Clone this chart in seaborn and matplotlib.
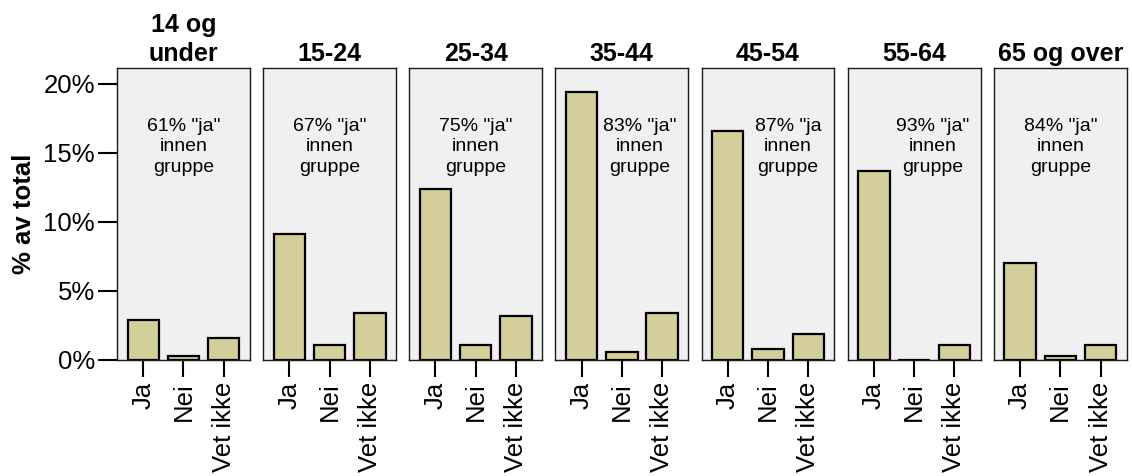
import matplotlib
matplotlib.use("Agg")
import matplotlib.pyplot as plt
import seaborn as sns
import pandas as pd
from matplotlib.ticker import FuncFormatter, FixedLocator

# ---- data ----
age_groups = ["14 og\nunder", "15-24", "25-34", "35-44", "45-54", "55-64", "65 og over"]
answers = ["Ja", "Nei", "Vet ikke"]
ja = [2.9, 9.1, 12.4, 19.4, 16.6, 13.7, 7.0]
nei = [0.3, 1.1, 1.1, 0.55, 0.8, 0.0, 0.3]
vet_ikke = [1.6, 3.4, 3.15, 3.4, 1.85, 1.1, 1.1]
notes = ['61% "ja"\ninnen\ngruppe', '67% "ja"\ninnen\ngruppe', '75% "ja"\ninnen\ngruppe',
         '83% "ja"\ninnen\ngruppe', '87% "ja\ninnen\ngruppe', '93% "ja"\ninnen\ngruppe',
         '84% "ja"\ninnen\ngruppe']
y_ticks = [0, 5, 10, 15, 20]
y_label = "% av total"

# note horizontal placement (category units)
note_x = [1.0, 1.0, 1.0, 1.45, 1.5, 1.45, 1.0]

rows = []
for i, age in enumerate(age_groups):
    for ans, vals in zip(answers, [ja, nei, vet_ikke]):
        rows.append({"age": age, "answer": ans, "value": vals[i]})
df = pd.DataFrame(rows)

sns.set_theme(style="white")
plt.rcParams['font.family'] = ['Liberation Sans', 'DejaVu Sans']
plt.rcParams['text.color'] = 'black'
plt.rcParams['axes.labelcolor'] = 'black'
plt.rcParams['xtick.color'] = 'black'
plt.rcParams['ytick.color'] = 'black'

g = sns.catplot(data=df, x="answer", y="value", col="age", kind="bar",
                order=answers, col_order=age_groups, color="#D3CE9A",
                edgecolor="black", linewidth=1.6, width=0.78, saturation=1,
                height=4.76, aspect=0.2, sharey=True, errorbar=None)
fig = g.figure
fig.set_size_inches(11.32, 4.76)
fig.subplots_adjust(left=0.1034, right=0.9953, bottom=0.2437, top=0.8565, wspace=0.1)

for i, ax in enumerate(g.axes.flat):
    ax.set_facecolor("#F0F0F0")
    for sp in ax.spines.values():
        sp.set_visible(True)
        sp.set_color("#1a1a1a")
        sp.set_linewidth(1.0)
    ax.set_xlim(-0.65, 2.65)
    ax.set_ylim(0, 21.1)
    ax.set_title(age_groups[i], fontsize=18, fontweight="bold", pad=5,
                 linespacing=1.3, color="black")
    ax.set_xlabel("")
    ax.tick_params(axis="x", which="major", bottom=True, length=12, width=1.5,
                   color="black", labelcolor="black", labelsize=18.5, pad=4,
                   labelrotation=90)
    ax.text(note_x[i], 17.5, notes[i], ha="center", va="top", fontsize=14,
            linespacing=1.25, color="black")
    if i == 0:
        ax.yaxis.set_major_locator(FixedLocator(y_ticks))
        ax.yaxis.set_major_formatter(FuncFormatter(lambda v, p: f"{v:.0f}%"))
        ax.tick_params(axis="y", left=True, length=14, width=1.5, color="black",
                       labelcolor="black", labelsize=18.5, pad=2)
        ax.set_ylabel(y_label, fontsize=18.5, fontweight="bold", labelpad=5,
                      color="black")
    else:
        ax.set_ylabel("")
        ax.tick_params(axis="y", left=False, labelleft=False)

fig.savefig("out.png", dpi=100)
